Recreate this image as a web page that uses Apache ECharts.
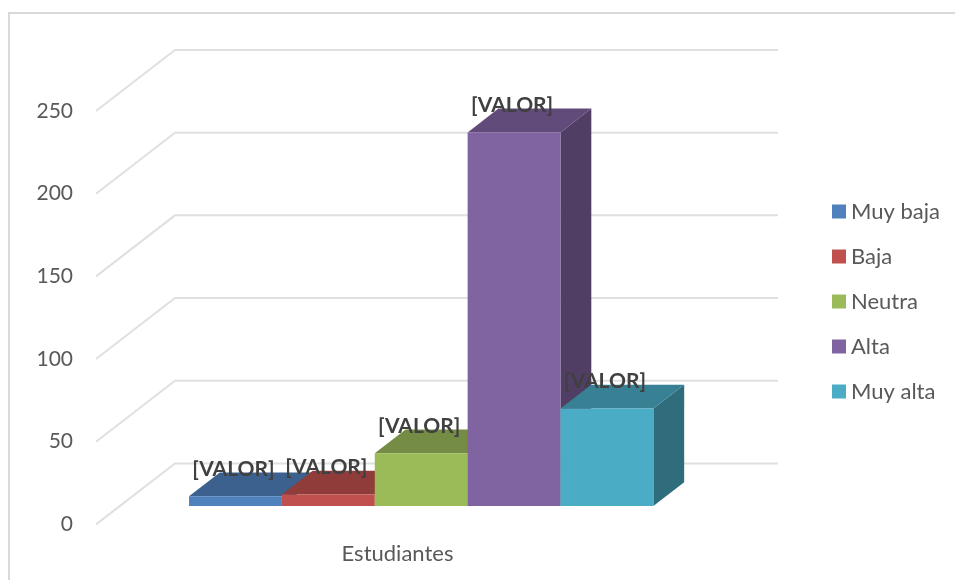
<!DOCTYPE html>
<html>
<head>
<meta charset="utf-8">
<style>html,body{margin:0;padding:0;background:#fff}#c{width:955px;height:580px}</style>
<script src="https://cdn.jsdelivr.net/npm/echarts@6/dist/echarts.min.js"></script>
</head>
<body>
<div id="c"></div>
<script>
var categories = ['Estudiantes'];
var seriesNames = ['Muy baja', 'Baja', 'Neutra', 'Alta', 'Muy alta'];
var seriesValues = [6, 7, 32, 226, 59];
var seriesColors = ['#4f81bd', '#c0504d', '#9bbb59', '#8064a2', '#4bacc6'];
var topColors = ['#3c618e', '#903c3a', '#748c43', '#604b7a', '#388195'];
var sideColors = ['#335377', '#773230', '#607538', '#503e65', '#2f6c7c'];
var yTicks = [0, 50, 100, 150, 200, 250];
var labelText = '[VALOR]';

var DX = 79, DY = -61;          // full depth of the 3D floor on screen
var D0 = 0.30, D1 = 0.69;       // bar front / back depth inside the floor
var BAR = 0.154;                // bar width as a share of the category band
var FONT = 'Lato, "Open Sans", sans-serif';

function wall(params, api) {
  var v = api.value(0);
  var band = api.size([1, 0])[0];
  var c = api.coord([0, v]);
  var left = c[0] - band / 2, right = c[0] + band / 2;
  return {
    type: 'polyline',
    shape: { points: [[left, c[1]], [left + DX, c[1] + DY], [right + DX, c[1] + DY]] },
    style: { fill: null, stroke: '#e0e0e0', lineWidth: 2 },
    silent: true
  };
}

function bar(i) {
  return function (params, api) {
    var v = api.value(1);
    var band = api.size([1, 0])[0];
    var w = band * BAR;
    var top = api.coord([0, v]);
    var base = api.coord([0, 0]);
    var x0 = top[0] + (i - seriesNames.length / 2) * w + D0 * DX;
    var x1 = x0 + w;
    var yB = base[1] + D0 * DY;
    var yT = top[1] + D0 * DY;
    var dx = (D1 - D0) * DX, dy = (D1 - D0) * DY;
    return {
      type: 'group',
      children: [
        { type: 'polygon', shape: { points: [[x1, yB], [x1 + dx, yB + dy], [x1 + dx, yT + dy], [x1, yT]] }, style: { fill: sideColors[i] } },
        { type: 'polygon', shape: { points: [[x0, yT], [x1, yT], [x1 + dx, yT + dy], [x0 + dx, yT + dy]] }, style: { fill: topColors[i] } },
        { type: 'rect', shape: { x: x0, y: yT, width: w, height: yB - yT }, style: { fill: seriesColors[i] } },
        { type: 'text', z2: 100, style: { x: (x0 + x1) / 2 - 2, y: yT - 27, text: labelText, align: 'center', verticalAlign: 'middle', fill: '#404040', font: 'bold 21px ' + FONT } }
      ]
    };
  };
}

var series = [{
  type: 'custom',
  name: 'walls',
  silent: true,
  renderItem: wall,
  data: yTicks.map(function (t) { return [t]; }),
  encode: { y: 0 },
  z: 1
}];
seriesNames.forEach(function (n, i) {
  series.push({
    type: 'custom',
    name: n,
    renderItem: bar(i),
    data: [[0, seriesValues[i]]],
    encode: { x: 0, y: 1 },
    itemStyle: { color: seriesColors[i] },
    z: 2
  });
});

var chart = echarts.init(document.getElementById('c'), null, { renderer: 'canvas' });
chart.setOption({
  animation: false,
  backgroundColor: '#fff',
  textStyle: { fontFamily: FONT },
  graphic: [{
    type: 'rect', z: 0, silent: true,
    shape: { x: 9, y: 13, width: 960, height: 600 },
    style: { fill: null, stroke: '#d9d9d9', lineWidth: 2 }
  }],
  grid: { left: 96, top: 111, width: 603, height: 413.4 },
  xAxis: {
    type: 'category',
    data: categories,
    axisLine: { show: false },
    axisTick: { show: false },
    splitLine: { show: false },
    axisLabel: { color: '#595959', fontSize: 22, margin: 19, fontFamily: FONT }
  },
  yAxis: {
    type: 'value',
    min: 0, max: 250, interval: 50,
    axisLine: { show: false },
    axisTick: { show: false },
    splitLine: { show: false },
    axisLabel: { color: '#595959', fontSize: 21, margin: 23, fontFamily: FONT, verticalAlign: 'middle' }
  },
  legend: {
    data: seriesNames,
    orient: 'vertical',
    left: 827, top: 194,
    itemWidth: 14, itemHeight: 14,
    itemGap: 20,
    icon: 'rect',
    selectedMode: false,
    textStyle: { color: '#595959', fontSize: 22, fontFamily: FONT, lineHeight: 25 }
  },
  series: series
});
</script>
</body>
</html>
